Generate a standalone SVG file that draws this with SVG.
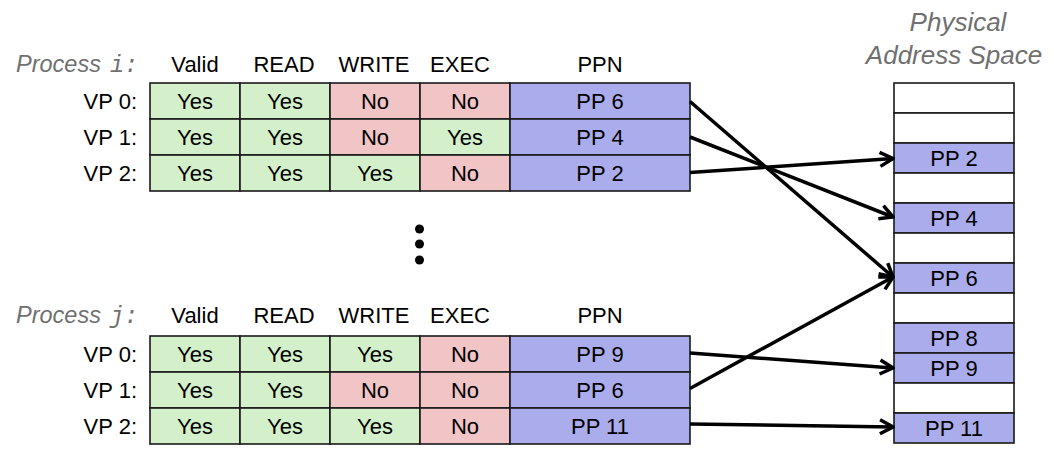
<svg xmlns="http://www.w3.org/2000/svg" width="1054" height="460" viewBox="0 0 1054 460">
<style>
text{font-family:"Liberation Sans",Arial,sans-serif;font-size:22px;fill:#000}
.c{text-anchor:middle}
.r{text-anchor:end}
.title{font-style:italic;fill:#707070;font-size:23.5px}
.mono{font-family:"Liberation Mono","Courier New",monospace;font-style:italic;fill:#707070;font-size:23.5px}
.ptitle{font-style:italic;fill:#707070;font-size:26px;text-anchor:middle}
.y{fill:#d3f0cb;stroke:#1a1a1a;stroke-width:1.6}
.n{fill:#f1c5c5;stroke:#1a1a1a;stroke-width:1.6}
.p{fill:#abacec;stroke:#1a1a1a;stroke-width:1.6}
.e{fill:#fff;stroke:#1a1a1a;stroke-width:1.6}
.arr{fill:none;stroke:#000;stroke-width:3.5;marker-end:url(#ah)}
</style>
<defs>
<marker id="ah" viewBox="0 0 18 18" refX="16" refY="9" markerWidth="18" markerHeight="18" markerUnits="userSpaceOnUse" orient="auto">
<path d="M3,2 L16,9 L3,16" fill="none" stroke="#000" stroke-width="3.5" stroke-linejoin="miter"/>
</marker>
</defs>
<rect width="1054" height="460" fill="#fff"/>

<g id="proc-i-header">
<text class="title" x="16" y="72">Process</text>
<text class="mono" x="110" y="72">i:</text>
<text class="c" x="195" y="72">Valid</text>
<text class="c" x="284" y="72">READ</text>
<text class="c" x="374" y="72">WRITE</text>
<text class="c" x="460" y="72">EXEC</text>
<text class="c" x="600" y="72">PPN</text>
</g>
<g id="proc-i-vp0">
<text class="r" x="137" y="109">VP 0:</text>
<rect class="y" x="150" y="83" width="90" height="36"/><rect class="y" x="240" y="83" width="90" height="36"/>
<rect class="n" x="330" y="83" width="90" height="36"/><rect class="n" x="420" y="83" width="90" height="36"/>
<rect class="p" x="510" y="83" width="180" height="36"/>
<text class="c" x="195" y="109">Yes</text><text class="c" x="285" y="109">Yes</text><text class="c" x="375" y="109">No</text><text class="c" x="465" y="109">No</text><text class="c" x="600" y="109">PP 6</text>
</g>
<g id="proc-i-vp1">
<text class="r" x="137" y="145">VP 1:</text>
<rect class="y" x="150" y="119" width="90" height="36"/><rect class="y" x="240" y="119" width="90" height="36"/>
<rect class="n" x="330" y="119" width="90" height="36"/><rect class="y" x="420" y="119" width="90" height="36"/>
<rect class="p" x="510" y="119" width="180" height="36"/>
<text class="c" x="195" y="145">Yes</text><text class="c" x="285" y="145">Yes</text><text class="c" x="375" y="145">No</text><text class="c" x="465" y="145">Yes</text><text class="c" x="600" y="145">PP 4</text>
</g>
<g id="proc-i-vp2">
<text class="r" x="137" y="181">VP 2:</text>
<rect class="y" x="150" y="155" width="90" height="36"/><rect class="y" x="240" y="155" width="90" height="36"/>
<rect class="y" x="330" y="155" width="90" height="36"/><rect class="n" x="420" y="155" width="90" height="36"/>
<rect class="p" x="510" y="155" width="180" height="36"/>
<text class="c" x="195" y="181">Yes</text><text class="c" x="285" y="181">Yes</text><text class="c" x="375" y="181">Yes</text><text class="c" x="465" y="181">No</text><text class="c" x="600" y="181">PP 2</text>
</g>

<g id="ellipsis" fill="#000">
<circle cx="419.5" cy="229" r="4.5"/><circle cx="419.5" cy="244" r="4.5"/><circle cx="419.5" cy="260" r="4.5"/>
</g>

<g id="proc-j-header">
<text class="title" x="16" y="323">Process</text>
<text class="mono" x="110" y="323">j:</text>
<text class="c" x="195" y="323">Valid</text>
<text class="c" x="284" y="323">READ</text>
<text class="c" x="374" y="323">WRITE</text>
<text class="c" x="460" y="323">EXEC</text>
<text class="c" x="600" y="323">PPN</text>
</g>
<g id="proc-j-vp0">
<text class="r" x="137" y="362">VP 0:</text>
<rect class="y" x="150" y="336" width="90" height="36"/><rect class="y" x="240" y="336" width="90" height="36"/>
<rect class="y" x="330" y="336" width="90" height="36"/><rect class="n" x="420" y="336" width="90" height="36"/>
<rect class="p" x="510" y="336" width="180" height="36"/>
<text class="c" x="195" y="362">Yes</text><text class="c" x="285" y="362">Yes</text><text class="c" x="375" y="362">Yes</text><text class="c" x="465" y="362">No</text><text class="c" x="600" y="362">PP 9</text>
</g>
<g id="proc-j-vp1">
<text class="r" x="137" y="398">VP 1:</text>
<rect class="y" x="150" y="372" width="90" height="36"/><rect class="y" x="240" y="372" width="90" height="36"/>
<rect class="n" x="330" y="372" width="90" height="36"/><rect class="n" x="420" y="372" width="90" height="36"/>
<rect class="p" x="510" y="372" width="180" height="36"/>
<text class="c" x="195" y="398">Yes</text><text class="c" x="285" y="398">Yes</text><text class="c" x="375" y="398">No</text><text class="c" x="465" y="398">No</text><text class="c" x="600" y="398">PP 6</text>
</g>
<g id="proc-j-vp2">
<text class="r" x="137" y="434">VP 2:</text>
<rect class="y" x="150" y="408" width="90" height="36"/><rect class="y" x="240" y="408" width="90" height="36"/>
<rect class="y" x="330" y="408" width="90" height="36"/><rect class="n" x="420" y="408" width="90" height="36"/>
<rect class="p" x="510" y="408" width="180" height="36"/>
<text class="c" x="195" y="434">Yes</text><text class="c" x="285" y="434">Yes</text><text class="c" x="375" y="434">Yes</text><text class="c" x="465" y="434">No</text><text class="c" x="600" y="434">PP 11</text>
</g>

<g id="phys-space">
<text class="ptitle" x="958" y="31">Physical</text>
<text class="ptitle" x="954" y="64">Address Space</text>
<rect class="e" x="894" y="83" width="120" height="30"/>
<rect class="e" x="894" y="113" width="120" height="30"/>
<rect class="p" x="894" y="143" width="120" height="30"/>
<rect class="e" x="894" y="173" width="120" height="30"/>
<rect class="p" x="894" y="203" width="120" height="30"/>
<rect class="e" x="894" y="233" width="120" height="30"/>
<rect class="p" x="894" y="263" width="120" height="30"/>
<rect class="e" x="894" y="293" width="120" height="30"/>
<rect class="p" x="894" y="323" width="120" height="30"/>
<rect class="p" x="894" y="353" width="120" height="30"/>
<rect class="e" x="894" y="383" width="120" height="30"/>
<rect class="p" x="894" y="413" width="120" height="30"/>
<text class="c" x="954" y="166">PP 2</text>
<text class="c" x="954" y="226">PP 4</text>
<text class="c" x="954" y="286">PP 6</text>
<text class="c" x="954" y="346">PP 8</text>
<text class="c" x="954" y="376">PP 9</text>
<text class="c" x="954" y="436">PP 11</text>
</g>

<g id="connectors">
<line class="arr" x1="690" y1="101.5" x2="893" y2="277"/>
<line class="arr" x1="690" y1="137" x2="893" y2="217"/>
<line class="arr" x1="690" y1="172.5" x2="893" y2="158.5"/>
<line class="arr" x1="690" y1="353" x2="893" y2="368"/>
<line class="arr" x1="690" y1="388.5" x2="893" y2="277"/>
<line class="arr" x1="690" y1="424" x2="893" y2="427"/>
</g>
</svg>
